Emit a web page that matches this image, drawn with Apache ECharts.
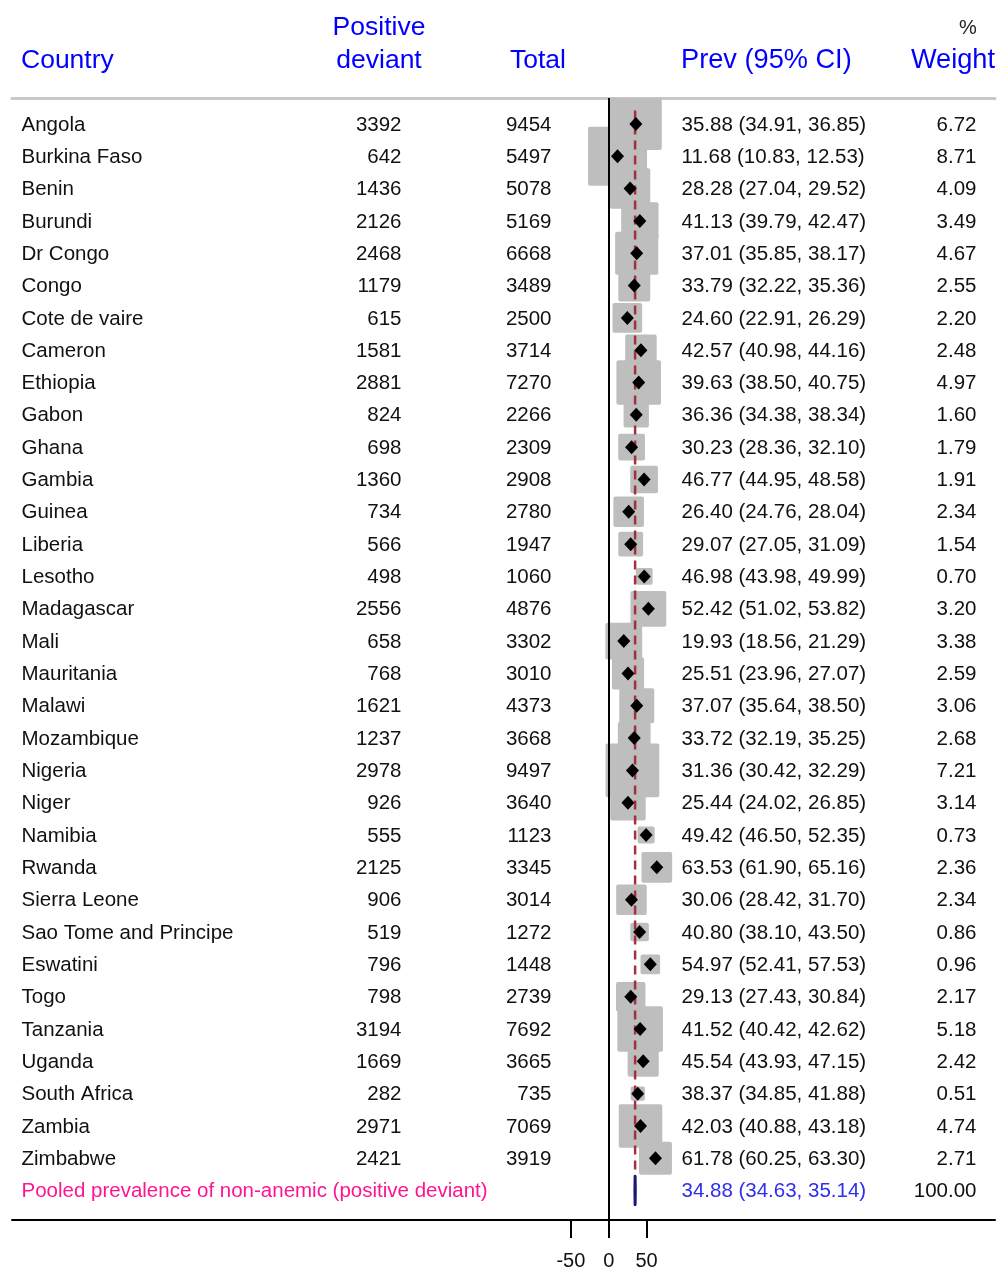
<!DOCTYPE html>
<html><head><meta charset="utf-8">
<script src="https://cdn.jsdelivr.net/npm/echarts@6/dist/echarts.min.js"></script>
<style>html,body{margin:0;padding:0;background:#fff}#c{width:997px;height:1271px}</style>
</head><body><div id="c"></div>
<script>
// ---------------- data ----------------
const countries = ["Angola","Burkina Faso","Benin","Burundi","Dr Congo","Congo","Cote de vaire","Cameron","Ethiopia","Gabon","Ghana","Gambia","Guinea","Liberia","Lesotho","Madagascar","Mali","Mauritania","Malawi","Mozambique","Nigeria","Niger","Namibia","Rwanda","Sierra Leone","Sao Tome and Principe","Eswatini","Togo","Tanzania","Uganda","South Africa","Zambia","Zimbabwe"];
const positiveDeviant = [3392,642,1436,2126,2468,1179,615,1581,2881,824,698,1360,734,566,498,2556,658,768,1621,1237,2978,926,555,2125,906,519,796,798,3194,1669,282,2971,2421];
const totals = [9454,5497,5078,5169,6668,3489,2500,3714,7270,2266,2309,2908,2780,1947,1060,4876,3302,3010,4373,3668,9497,3640,1123,3345,3014,1272,1448,2739,7692,3665,735,7069,3919];
const prev = [35.88,11.68,28.28,41.13,37.01,33.79,24.60,42.57,39.63,36.36,30.23,46.77,26.40,29.07,46.98,52.42,19.93,25.51,37.07,33.72,31.36,25.44,49.42,63.53,30.06,40.80,54.97,29.13,41.52,45.54,38.37,42.03,61.78];
const ciLow = [34.91,10.83,27.04,39.79,35.85,32.22,22.91,40.98,38.50,34.38,28.36,44.95,24.76,27.05,43.98,51.02,18.56,23.96,35.64,32.19,30.42,24.02,46.50,61.90,28.42,38.10,52.41,27.43,40.42,43.93,34.85,40.88,60.25];
const ciHigh = [36.85,12.53,29.52,42.47,38.17,35.36,26.29,44.16,40.75,38.34,32.10,48.58,28.04,31.09,49.99,53.82,21.29,27.07,38.50,35.25,32.29,26.85,52.35,65.16,31.70,43.50,57.53,30.84,42.62,47.15,41.88,43.18,63.30];
const weights = [6.72,8.71,4.09,3.49,4.67,2.55,2.20,2.48,4.97,1.60,1.79,1.91,2.34,1.54,0.70,3.20,3.38,2.59,3.06,2.68,7.21,3.14,0.73,2.36,2.34,0.86,0.96,2.17,5.18,2.42,0.51,4.74,2.71];
const pooledLabel = "Pooled prevalence of non-anemic (positive deviant)";
const pooledEst = 34.88;
const pooledLow = 34.63;
const pooledHigh = 35.14;
const pooledWeight = 100.00;
const xTicks = [-50, 0, 50];

// ---------------- layout ----------------
const FONT = '"Liberation Sans", Arial, sans-serif';
const PX_ZERO = 608.7, PX_PER_UNIT = 0.757;
const GRID_L = 12, GRID_R = 995, GRID_T = 98, GRID_B = 1222;
const X_MIN = (GRID_L - PX_ZERO) / PX_PER_UNIT;
const X_MAX = (GRID_R - PX_ZERO) / PX_PER_UNIT;
const ROW_PX = 32.38, FIRST_ROW_PX = 124;
const Y_MIN = -(FIRST_ROW_PX - GRID_T) / ROW_PX;
const Y_MAX = Y_MIN + (GRID_B - GRID_T) / ROW_PX;
const BOX_K = 20;
const TEXT_DY = 0.03; // small downward nudge of text rows (in row units)
const COL = { country: 21, pos: 402, total: 552, ci: 681, weight: 977 };
const nRows = countries.length;
const pooledRow = nRows;

const f2 = v => v.toFixed(2);
const ciText = (e, l, h) => `${f2(e)} (${f2(l)}, ${f2(h)})`;

function textSeries(x, texts, side, color, rows) {
  return {
    type: 'scatter', xAxisIndex: 1, yAxisIndex: 0, silent: true, clip: false,
    symbolSize: 1, itemStyle: { color: 'transparent', opacity: 1 }, z: 10,
    data: texts.map((t, i) => ({ value: [x, (rows ? rows[i] : i) + TEXT_DY], name: String(t) })),
    label: { show: true, position: side, distance: 0, formatter: '{b}',
      color: color, opacity: 1, fontSize: 20.5, fontFamily: FONT }
  };
}

const hdr = (text, x, y, align, size, color) => ({
  type: 'text', x: x, y: y,
  style: { text: text, font: size + 'px ' + FONT, fill: color, align: align, textAlign: align,
    verticalAlign: 'middle', textVerticalAlign: 'middle' }
});

const option = {
  animation: false,
  backgroundColor: '#fff',
  grid: { left: GRID_L, right: 997 - GRID_R, top: GRID_T, bottom: 1271 - GRID_B, containLabel: false },
  xAxis: [
    { type: 'value', min: X_MIN, max: X_MAX, position: 'bottom',
      axisLine: { show: true, onZero: false, lineStyle: { color: '#000', width: 2 } },
      axisTick: { show: true, customValues: xTicks, length: 18, lineStyle: { color: '#000', width: 2 } },
      axisLabel: { show: true, customValues: xTicks, margin: 31, color: '#111', fontSize: 20, fontFamily: FONT },
      splitLine: { show: false } },
    { type: 'value', min: GRID_L, max: GRID_R, position: 'top',
      axisLine: { show: true, onZero: false, lineStyle: { color: '#C8C8C8', width: 3 } },
      axisTick: { show: false }, axisLabel: { show: false }, splitLine: { show: false } }
  ],
  yAxis: [{ type: 'value', inverse: true, min: Y_MIN, max: Y_MAX, show: false,
    axisLine: { onZero: false }, splitLine: { show: false } }],
  graphic: [
    hdr('Country', 21, 61, 'left', 26.5, '#0000FF'),
    hdr('Positive', 379, 28, 'center', 26.5, '#0000FF'),
    hdr('deviant', 379, 61, 'center', 26.5, '#0000FF'),
    hdr('Total', 538, 61, 'center', 26.5, '#0000FF'),
    hdr('Prev (95% CI)', 681, 61, 'left', 27.2, '#0000FF'),
    hdr('%', 968, 28, 'center', 20, '#222'),
    hdr('Weight', 995, 61, 'right', 27.2, '#0000FF')
  ],
  series: [
    // weight boxes
    { type: 'custom', xAxisIndex: 0, yAxisIndex: 0, silent: true, z: 2, clip: false,
      data: prev.map((p, i) => [p, i, weights[i]]),
      encode: { x: 0, y: 1 },
      renderItem: (params, api) => {
        const c = api.coord([api.value(0), api.value(1)]);
        const s = BOX_K * Math.sqrt(api.value(2));
        return { type: 'rect', shape: { x: c[0] - s / 2, y: c[1] - s / 2, width: s, height: s, r: 2 },
          style: { fill: '#BEBEBE' } };
      } },
    // dashed pooled reference line
    { type: 'line', xAxisIndex: 0, yAxisIndex: 0, silent: true, z: 3, symbol: 'none',
      data: [[pooledEst, -0.42], [pooledEst, nRows - 0.55]],
      lineStyle: { color: '#A3303E', width: 2.5, type: [9, 6] } },
    // zero line
    { type: 'line', xAxisIndex: 0, yAxisIndex: 0, silent: true, z: 4, symbol: 'none', data: [],
      markLine: { silent: true, symbol: 'none', label: { show: false },
        lineStyle: { color: '#000', width: 2, type: 'solid' },
        data: [{ xAxis: 0 }] } },
    // point estimates
    { type: 'scatter', xAxisIndex: 0, yAxisIndex: 0, silent: true, z: 5, symbol: 'diamond',
      symbolSize: [13, 14], itemStyle: { color: '#000', opacity: 1 },
      data: prev.map((p, i) => [p, i]) },
    // pooled diamond
    { type: 'custom', xAxisIndex: 0, yAxisIndex: 0, silent: true, z: 5, clip: false,
      data: [[pooledEst, pooledRow, pooledLow, pooledHigh]],
      encode: { x: 0, y: 1 },
      renderItem: (params, api) => {
        const e = api.value(0), r = api.value(1), lo = api.value(2), hi = api.value(3);
        const pts = [api.coord([lo, r]), api.coord([e, r - 0.44]), api.coord([hi, r]), api.coord([e, r + 0.44])];
        return { type: 'polygon', shape: { points: pts },
          style: { fill: '#1A1A70', stroke: '#1A1A70', lineWidth: 3, lineJoin: 'round' } };
      } },
    // text columns
    textSeries(COL.country, countries, 'right', '#111'),
    textSeries(COL.pos, positiveDeviant, 'left', '#111'),
    textSeries(COL.total, totals, 'left', '#111'),
    textSeries(COL.ci, prev.map((p, i) => ciText(p, ciLow[i], ciHigh[i])), 'right', '#111'),
    textSeries(COL.weight, weights.map(f2), 'left', '#111'),
    textSeries(COL.country, [pooledLabel], 'right', '#FF1493', [pooledRow]),
    textSeries(COL.ci, [ciText(pooledEst, pooledLow, pooledHigh)], 'right', '#2E2EEE', [pooledRow]),
    textSeries(COL.weight, [f2(pooledWeight)], 'left', '#111', [pooledRow])
  ]
};

const chart = echarts.init(document.getElementById('c'), null, { renderer: 'canvas' });
chart.setOption(option);
</script>
</body></html>
